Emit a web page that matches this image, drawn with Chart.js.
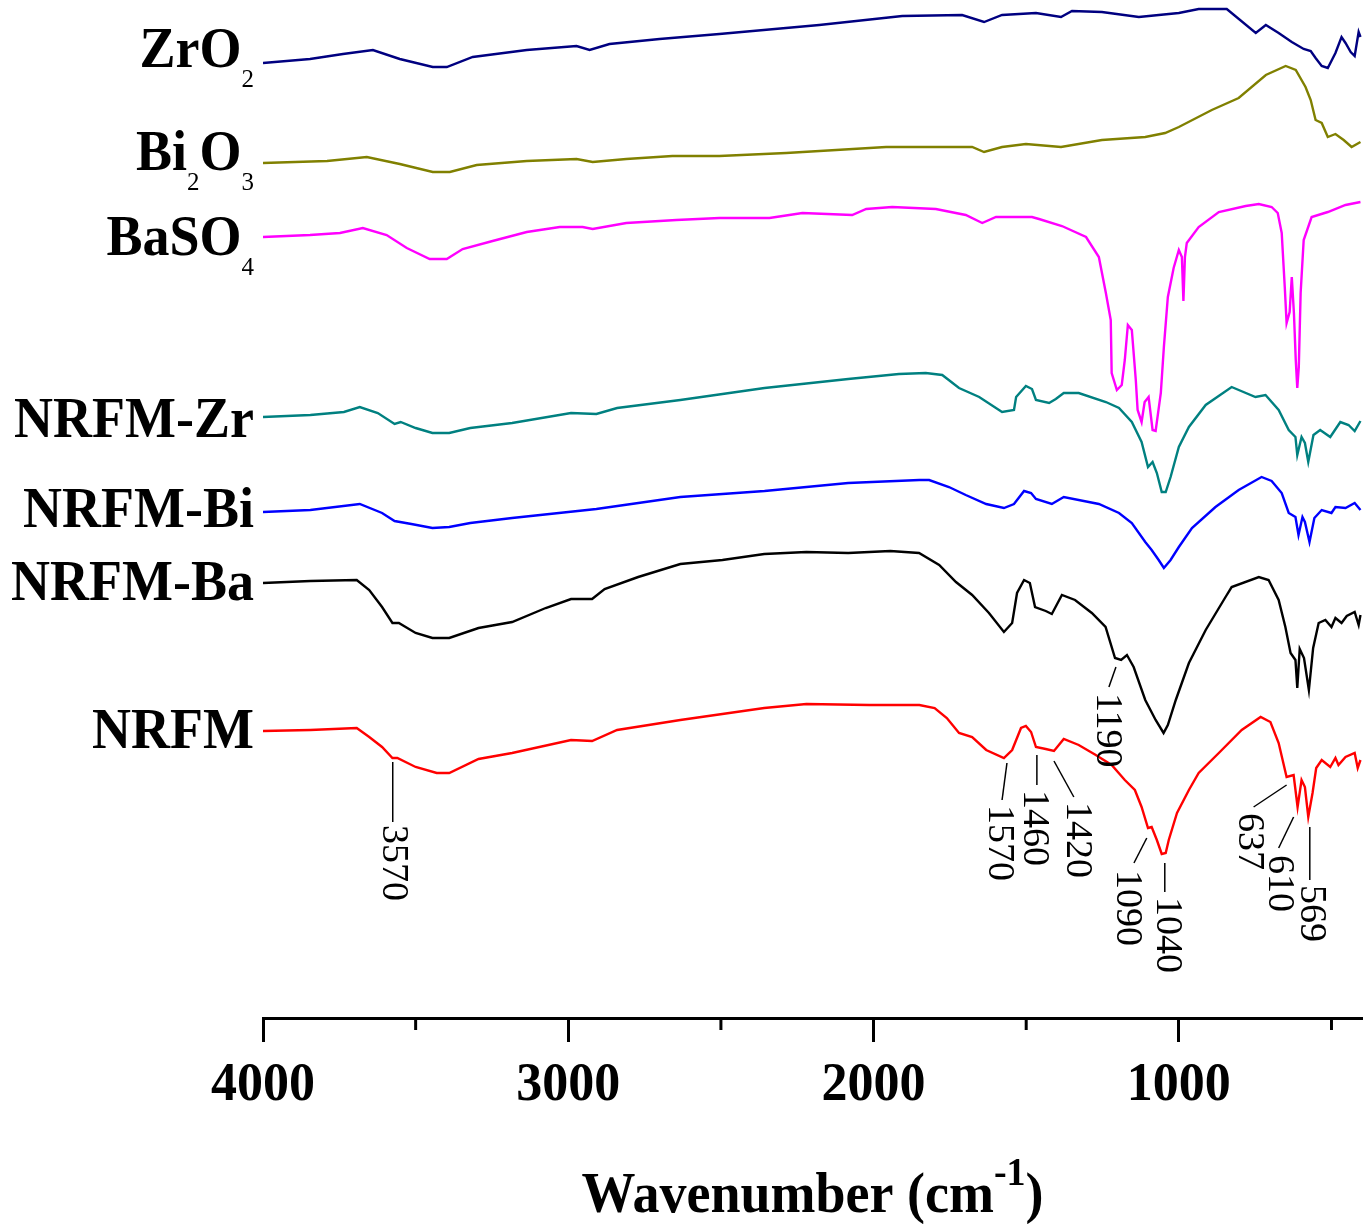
<!DOCTYPE html>
<html>
<head>
<meta charset="utf-8">
<script src="https://cdn.jsdelivr.net/npm/chart.js@4.4.1/dist/chart.umd.min.js"></script>
<style>
  body { margin: 0; background: #fff; }
  #wrap { width: 1372px; height: 1224px; }
</style>
</head>
<body>
<div id="wrap"><canvas id="myChart" width="1372" height="1224"></canvas></div>
<script>
const serif = "'Liberation Serif', 'Times New Roman', serif";

// series names (digits are drawn as subscripts) and colours
const seriesNames = ['ZrO2', 'Bi2O3', 'BaSO4', 'NRFM-Zr', 'NRFM-Bi', 'NRFM-Ba', 'NRFM'];
const seriesColors = ['#000080', '#808000', '#ff00ff', '#008080', '#0000ff', '#000000', '#ff0000'];

const xTicks = [4000, 3000, 2000, 1000];
const minorTicks = [3500, 2500, 1500, 500];

// spectra: [wavenumber (cm-1), transmittance (a.u., offset)]
const zro2 = [[4000,95.5],[3846,95.9],[3738,96.4],[3640,96.8],[3552,95.9],[3444,95.1],[3398,95.1],[3313,96.1],
  [3136,96.8],[2973,97.2],[2930,96.8],[2865,97.4],[2701,97.9],[2505,98.4],[2178,99.3],[1906,100.2],[1710,100.3],
  [1638,99.6],[1579,100.3],[1468,100.5],[1386,100.1],[1350,100.7],[1252,100.6],[1131,100.1],[1000,100.5],
  [935,100.9],[843,100.9],[748,98.5],[715,99.3],[673,98.5],[630,97.6],[591,96.9],[568,96.7],[552,96.0],
  [532,95.2],[512,95.0],[487,96.5],[467,98.1],[454,97.5],[437,96.6],[424,96.2],[411,98.6],[405,98.1]];

const bi2o3 = [[4000,85.5],[3790,85.7],[3660,86.1],[3552,85.4],[3444,84.6],[3388,84.6],[3300,85.3],[3136,85.7],
  [2973,85.9],[2920,85.6],[2810,85.9],[2659,86.2],[2505,86.2],[2286,86.5],[1959,87.1],[1677,87.1],[1638,86.6],
  [1579,87.1],[1501,87.4],[1386,87.1],[1252,87.8],[1110,88.1],[1045,88.5],[1000,89.1],[892,90.8],[804,92.0],
  [715,94.3],[650,95.2],[617,94.8],[585,93.1],[568,91.8],[552,89.8],[532,89.5],[512,88.1],[487,88.4],
  [460,87.8],[434,87.1],[405,87.6]];

const baso4 = [[4000,78.1],[3846,78.3],[3748,78.5],[3673,79.0],[3595,78.3],[3529,77.0],[3454,75.9],[3398,75.9],
  [3346,76.9],[3248,77.7],[3136,78.6],[3028,79.1],[2953,79.1],[2920,78.9],[2810,79.5],[2646,79.8],[2505,80.0],
  [2341,80.0],[2233,80.5],[2070,80.3],[2024,80.9],[1939,81.1],[1796,80.9],[1698,80.3],[1644,79.5],[1599,80.1],
  [1481,80.1],[1458,79.9],[1383,79.2],[1304,78.1],[1262,76.1],[1239,72.5],[1223,69.8],[1220,64.5],[1203,62.8],
  [1187,63.3],[1177,65.8],[1167,69.3],[1154,68.8],[1141,63.8],[1135,60.8],[1122,59.6],[1112,61.6],[1099,62.1],
  [1086,58.8],[1076,58.7],[1059,62.5],[1049,67.1],[1036,72.1],[1017,75.0],[1000,76.8],[990,76.1],[985,71.7],
  [980,76.1],[974,77.5],[935,79.1],[869,80.6],[781,81.2],[738,81.4],[696,81.1],[676,80.5],[663,78.5],[653,73.1],
  [647,69.5],[637,70.6],[630,74.1],[623,70.5],[617,65.8],[612,63.0],[607,65.1],[601,72.5],[591,77.8],[565,80.1],
  [512,80.6],[454,81.3],[405,81.6]];

const nrfmZr = [[4000,60.1],[3845,60.3],[3735,60.6],[3683,61.1],[3624,60.5],[3569,59.4],[3549,59.6],[3500,59.0],
  [3445,58.5],[3390,58.5],[3321,59.0],[3184,59.5],[2991,60.5],[2908,60.4],[2840,61.0],[2633,61.8],[2357,63.0],
  [2083,63.9],[1917,64.4],[1829,64.5],[1775,64.3],[1720,63.0],[1654,62.1],[1579,60.6],[1540,60.8],[1533,62.1],
  [1501,63.2],[1481,62.9],[1468,61.8],[1425,61.5],[1403,61.9],[1377,62.5],[1328,62.5],[1239,61.6],[1196,61.0],
  [1154,59.6],[1122,57.6],[1101,55.1],[1086,55.6],[1072,54.5],[1056,52.6],[1043,52.6],[1027,54.1],[1000,57.1],
  [967,59.1],[912,61.3],[827,63.1],[749,62.1],[716,62.3],[673,60.8],[640,58.8],[618,58.1],[612,56.3],[598,58.1],
  [587,57.5],[576,55.6],[559,58.3],[537,58.8],[504,58.1],[471,59.6],[444,59.3],[424,58.7],[405,59.7]];

const nrfmBi = [[4000,50.6],[3845,50.8],[3683,51.4],[3610,50.5],[3569,49.7],[3514,49.4],[3445,49.0],[3390,49.1],
  [3321,49.5],[3184,50.0],[2908,50.9],[2633,52.1],[2357,52.7],[2083,53.5],[1850,53.8],[1818,53.8],[1753,53.1],
  [1698,52.3],[1631,51.4],[1573,51.0],[1540,51.4],[1507,52.7],[1484,52.5],[1468,51.9],[1416,51.4],[1377,52.1],
  [1262,51.4],[1196,50.5],[1154,49.5],[1110,47.6],[1089,46.8],[1066,45.8],[1049,45.0],[1027,45.8],[1000,47.1],
  [957,49.0],[880,51.1],[804,52.8],[729,54.1],[696,53.7],[663,52.5],[640,50.5],[618,50.1],[608,48.3],[595,50.1],
  [587,49.6],[572,47.6],[556,50.0],[532,50.8],[500,50.5],[487,51.1],[454,51.0],[424,51.5],[405,50.8]];

const nrfmBa = [[4000,43.5],[3845,43.7],[3693,43.8],[3652,42.8],[3610,41.1],[3576,39.5],[3555,39.5],[3500,38.5],
  [3445,38.0],[3390,38.0],[3294,39.0],[3184,39.6],[3074,41.0],[2991,41.9],[2922,41.9],[2881,42.9],[2771,44.1],
  [2633,45.4],[2495,45.8],[2358,46.4],[2220,46.6],[2083,46.5],[1945,46.7],[1851,46.5],[1785,45.3],[1730,43.6],
  [1677,42.3],[1622,40.5],[1573,38.6],[1546,39.5],[1530,42.5],[1507,43.8],[1488,43.5],[1471,41.1],[1436,40.7],
  [1416,40.4],[1383,42.3],[1340,41.8],[1285,40.5],[1240,39.1],[1209,36.0],[1189,35.8],[1170,36.3],[1148,35.1],
  [1110,31.8],[1076,29.8],[1050,28.5],[1036,29.3],[1010,31.8],[967,35.5],[912,38.8],[847,42.1],[827,43.1],
  [738,44.1],[706,43.8],[673,41.8],[651,39.1],[634,36.5],[618,35.8],[612,33.0],[604,36.9],[590,36.0],[574,32.8],
  [560,37.0],[542,39.5],[520,39.8],[500,39.1],[487,40.0],[467,39.5],[450,40.2],[424,40.6],[411,39.3],[405,40.3]];

const nrfm = [[4000,28.7],[3845,28.8],[3693,29.0],[3652,28.1],[3610,27.1],[3576,26.0],[3560,26.0],[3500,25.1],
  [3431,24.5],[3390,24.5],[3294,25.9],[3184,26.5],[2991,27.8],[2922,27.7],[2840,28.8],[2633,29.8],[2358,31.0],
  [2220,31.4],[2014,31.3],[1850,31.3],[1800,31.0],[1760,30.0],[1720,28.5],[1677,28.1],[1631,26.8],[1573,26.0],
  [1546,26.8],[1517,29.0],[1501,29.2],[1484,28.6],[1468,27.1],[1436,26.9],[1409,26.7],[1377,27.9],[1328,27.3],
  [1272,26.3],[1220,25.3],[1177,23.8],[1144,22.8],[1122,21.1],[1101,19.0],[1089,19.1],[1072,17.8],[1056,16.4],
  [1043,16.5],[1033,17.8],[1006,20.5],[967,22.8],[935,24.5],[869,26.5],[794,28.8],[732,30.1],[700,29.6],
  [673,27.5],[647,24.1],[624,24.3],[611,21.1],[598,23.8],[587,23.1],[576,20.1],[562,22.5],[550,25.0],[532,25.8],
  [504,25.1],[487,26.0],[477,25.3],[454,26.1],[424,26.5],[414,25.0],[405,25.8]];

const spectra = [zro2, bi2o3, baso4, nrfmZr, nrfmBi, nrfmBa, nrfm];

// peak labels with their leader lines, in [wavenumber, value]
const peakLabels = ['3570', '1570', '1460', '1420', '1190', '1090', '1040', '637', '610', '569'];
const leaderFrom = [[3575,25.6],[1563,25.5],[1465,26.3],[1409,25.7],[1206,35.1],[1105,18.0],[1046,15.5],[647,23.3],[624,20.1],[571,19.1]];
const leaderTo   = [[3575,19.6],[1579,21.8],[1465,23.3],[1344,22.1],[1229,33.1],[1147,15.5],[1046,12.6],[755,21.1],[673,17.0],[571,13.8]];
const labelTop   = [[3575,19.3],[1589,21.3],[1474,22.8],[1334,21.6],[1236,32.5],[1170,14.8],[1039,12.1],[771,20.5],[673,16.3],[568,13.3]];

const nameBaselines = [67, 170, 255, 437, 527, 600, 748];

// draws runs of text, stretched a little in height like the original
function drawParts(ctx, parts, left, baseline, stretch) {
  let x = 0;
  ctx.save();
  ctx.translate(left, baseline);
  ctx.scale(1, stretch);
  parts.forEach(p => {
    ctx.font = p.font;
    ctx.fillText(p.t, x, (p.dy || 0) / stretch);
    x += ctx.measureText(p.t).width;
  });
  ctx.restore();
}
function partsWidth(ctx, parts) {
  return parts.reduce((w, p) => { ctx.font = p.font; return w + ctx.measureText(p.t).width; }, 0);
}

const overlay = {
  id: 'overlay',
  afterDraw(chart) {
    const ctx = chart.ctx;
    const xs = chart.scales.x, ys = chart.scales.y;
    const bottom = chart.chartArea.bottom;
    ctx.save();
    ctx.strokeStyle = '#000';
    ctx.fillStyle = '#000';

    // minor ticks
    ctx.lineWidth = 3;
    minorTicks.forEach(v => {
      const px = xs.getPixelForValue(v);
      ctx.beginPath();
      ctx.moveTo(px, bottom);
      ctx.lineTo(px, bottom + 12);
      ctx.stroke();
    });

    // tick labels
    ctx.textAlign = 'left';
    ctx.textBaseline = 'alphabetic';
    xTicks.forEach(v => {
      const parts = [{ t: String(v), font: 'bold 52px ' + serif }];
      drawParts(ctx, parts, xs.getPixelForValue(v) - partsWidth(ctx, parts) / 2, 1100, 1.06);
    });

    // peak positions
    ctx.lineWidth = 1.5;
    peakLabels.forEach((t, i) => {
      ctx.beginPath();
      ctx.moveTo(xs.getPixelForValue(leaderFrom[i][0]), ys.getPixelForValue(leaderFrom[i][1]));
      ctx.lineTo(xs.getPixelForValue(leaderTo[i][0]), ys.getPixelForValue(leaderTo[i][1]));
      ctx.stroke();
      ctx.save();
      ctx.translate(xs.getPixelForValue(labelTop[i][0]), ys.getPixelForValue(labelTop[i][1]));
      ctx.rotate(Math.PI / 2);
      ctx.font = '38px ' + serif;
      ctx.textAlign = 'left';
      ctx.textBaseline = 'middle';
      ctx.fillText(t, 0, 0);
      ctx.restore();
    });

    // series names, right aligned before the plot
    ctx.textAlign = 'left';
    ctx.textBaseline = 'alphabetic';
    seriesNames.forEach((name, i) => {
      const parts = name.split('').map(c => /[0-9]/.test(c)
        ? { t: c, font: '25px ' + serif, dy: 20 }
        : { t: c, font: 'bold 54px ' + serif });
      const w = partsWidth(ctx, parts);
      drawParts(ctx, parts, 254 - w, nameBaselines[i], 1.04);
    });

    // axis title with superscript
    const title = [
      { t: 'Wavenumber (cm', font: 'bold 54px ' + serif },
      { t: '-1', font: 'bold 38px ' + serif, dy: -27 },
      { t: ')', font: 'bold 54px ' + serif }
    ];
    const cx = (chart.chartArea.left + chart.chartArea.right) / 2;
    drawParts(ctx, title, cx - partsWidth(ctx, title) / 2, 1212, 1.04);
    ctx.restore();
  }
};

const data = {
  datasets: spectra.map((s, i) => ({
    label: seriesNames[i],
    data: s.map(p => ({ x: p[0], y: p[1] })),
    borderColor: seriesColors[i],
    borderWidth: 2.4,
    pointRadius: 0,
    tension: 0,
    fill: false
  }))
};

const config = {
  type: 'line',
  data,
  options: {
    responsive: false,
    animation: false,
    layout: { padding: { left: 263, right: 10, top: 0, bottom: 0 } },
    plugins: {
      legend: { display: false },
      tooltip: { enabled: false }
    },
    scales: {
      x: {
        type: 'linear',
        reverse: true,
        min: 400,
        max: 4000,
        afterBuildTicks: scale => { scale.ticks = xTicks.map(v => ({ value: v })); },
        afterFit: scale => { scale.height = 206; },
        border: { display: true, color: '#000', width: 3 },
        grid: {
          drawOnChartArea: false,
          drawTicks: true,
          tickLength: 24,
          tickWidth: 3,
          tickColor: '#000'
        },
        ticks: { display: false }
      },
      y: {
        display: false,
        min: 0,
        max: 101.8
      }
    }
  },
  plugins: [overlay]
};

const myChart = new Chart(document.getElementById('myChart'), config);
</script>
</body>
</html>
